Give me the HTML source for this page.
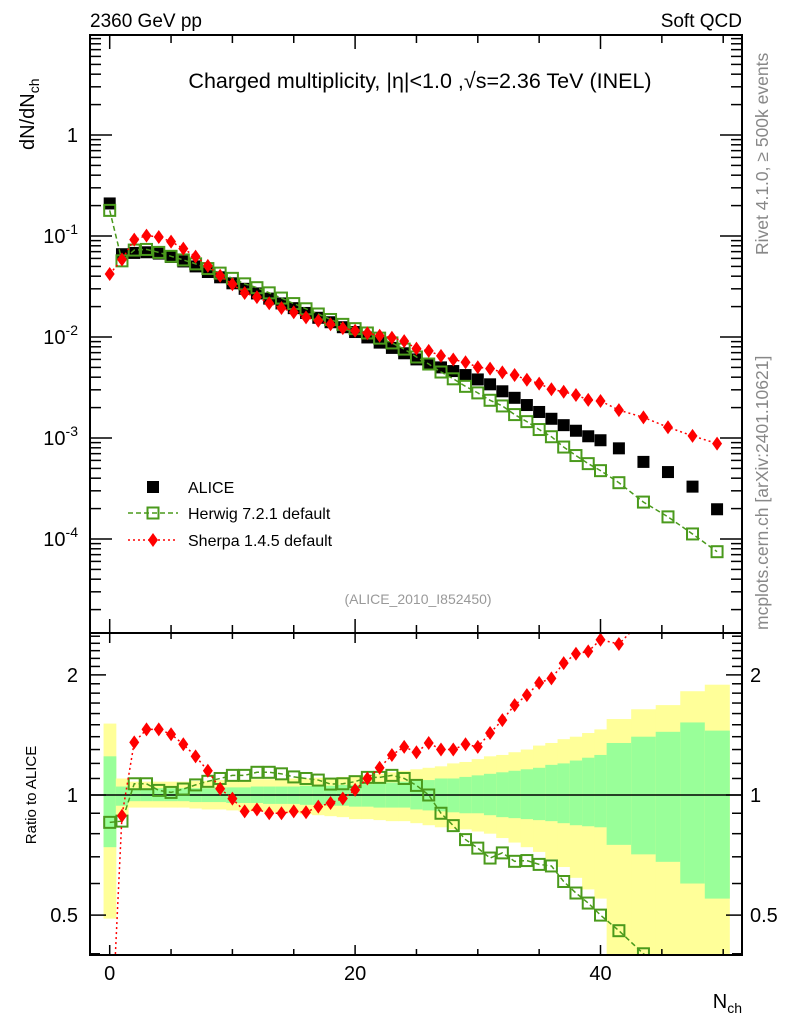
<!DOCTYPE html>
<html><head><meta charset="utf-8">
<style>
html,body{margin:0;padding:0;background:#fff;overflow:hidden;width:786px;height:1024px;}
svg{display:block;font-family:"Liberation Sans",sans-serif;}
</style></head>
<body>
<svg id="c" width="786" height="1024" viewBox="0 0 786 1024" xmlns="http://www.w3.org/2000/svg">
<defs>
<clipPath id="cm"><rect x="90" y="35" width="652" height="598"/></clipPath>
<clipPath id="cr"><rect x="90" y="633" width="652" height="322"/></clipPath>
</defs>
<text x="90" y="27" font-size="19">2360 GeV pp</text>
<text x="742" y="27" font-size="19" text-anchor="end">Soft QCD</text>
<text x="420" y="88" font-size="21.5" text-anchor="middle">Charged multiplicity, |η|&lt;1.0 ,√s=2.36 TeV (INEL)</text>
<text x="418" y="604" font-size="14" fill="#999" text-anchor="middle">(ALICE_2010_I852450)</text>
<text transform="translate(34,150) rotate(-90)" font-size="20">dN/dN<tspan font-size="14" dy="5">ch</tspan></text>
<text transform="translate(36,795) rotate(-90)" font-size="15" text-anchor="middle">Ratio to ALICE</text>
<text x="742" y="1008" font-size="20" text-anchor="end">N<tspan font-size="14" dy="5">ch</tspan></text>
<text transform="translate(768,255) rotate(-90)" font-size="17.5" fill="#888">Rivet 4.1.0, ≥ 500k events</text>
<text transform="translate(768,630) rotate(-90)" font-size="17.5" fill="#888">mcplots.cern.ch [arXiv:2401.10621]</text>
<g id="ratioBands" clip-path="url(#cr)"></g>
<g id="ticks"></g>
<g id="mainMarks" clip-path="url(#cm)"></g>
<g id="ratioMarks" clip-path="url(#cr)"></g>
<g id="legend"></g>
<rect x="90" y="35" width="652" height="598" fill="none" stroke="#000" stroke-width="2"/>
<rect x="90" y="633" width="652" height="322" fill="none" stroke="#000" stroke-width="2"/>
</svg>
<script>
const nch = [0,1,2,3,4,5,6,7,8,9,10,11,12,13,14,15,16,17,18,19,20,21,22,23,24,25,26,27,28,29,30,31,32,33,34,35,36,37,38,39,40,41.5,43.5,45.5,47.5,49.5];
const alice = [0.21,0.066,0.068,0.069,0.067,0.062,0.056,0.050,0.044,0.039,0.034,0.030,0.027,0.024,0.0215,0.0193,0.0173,0.0155,0.0140,0.0125,0.0112,0.0099,0.0088,0.0078,0.0069,0.0060,0.0054,0.0050,0.0046,0.0042,0.0038,0.0034,0.0029,0.0025,0.00212,0.00181,0.00155,0.00134,0.00118,0.00104,0.00095,0.00079,0.00058,0.00046,0.00033,0.000197];
const herwigToAlice = [0.854,0.86,1.067,1.067,1.027,1.015,1.035,1.06,1.082,1.10,1.12,1.12,1.14,1.14,1.13,1.11,1.10,1.09,1.065,1.067,1.08,1.107,1.107,1.12,1.10,1.057,1.0,0.90,0.838,0.773,0.736,0.695,0.716,0.682,0.685,0.67,0.664,0.607,0.568,0.536,0.50,0.457,0.40,0.36,0.34,0.38];
const sherpaToAlice = [0.20,0.887,1.355,1.46,1.46,1.42,1.34,1.25,1.15,1.037,0.979,0.91,0.92,0.90,0.90,0.91,0.905,0.935,0.955,0.98,1.03,1.10,1.17,1.26,1.32,1.28,1.35,1.30,1.30,1.34,1.32,1.43,1.54,1.68,1.78,1.91,1.96,2.14,2.26,2.29,2.45,2.39,2.76,2.78,3.18,4.47];
const totUp = [1.51,1.10,1.08,1.08,1.08,1.08,1.08,1.085,1.085,1.09,1.09,1.09,1.095,1.095,1.10,1.10,1.10,1.105,1.105,1.11,1.11,1.12,1.13,1.14,1.15,1.16,1.17,1.18,1.20,1.21,1.23,1.25,1.26,1.28,1.30,1.33,1.35,1.38,1.40,1.43,1.46,1.55,1.64,1.68,1.82,1.89];
const totDn = [0.49,0.89,0.93,0.93,0.93,0.93,0.93,0.925,0.92,0.92,0.915,0.91,0.91,0.905,0.90,0.90,0.895,0.89,0.885,0.88,0.87,0.87,0.865,0.86,0.86,0.85,0.84,0.83,0.82,0.82,0.81,0.80,0.78,0.76,0.74,0.72,0.69,0.66,0.62,0.58,0.55,0.35,0.35,0.35,0.35,0.35];
const statUp = [1.25,1.05,1.04,1.04,1.04,1.04,1.04,1.04,1.04,1.045,1.045,1.045,1.05,1.05,1.05,1.05,1.055,1.055,1.055,1.06,1.06,1.065,1.07,1.075,1.08,1.085,1.09,1.10,1.10,1.11,1.12,1.13,1.14,1.15,1.16,1.17,1.19,1.20,1.22,1.24,1.26,1.35,1.40,1.44,1.52,1.45];
const statDn = [0.74,0.94,0.965,0.965,0.965,0.965,0.965,0.96,0.96,0.96,0.955,0.955,0.955,0.95,0.95,0.95,0.945,0.945,0.94,0.94,0.935,0.935,0.93,0.93,0.93,0.92,0.915,0.91,0.905,0.90,0.90,0.89,0.88,0.875,0.87,0.865,0.86,0.85,0.84,0.835,0.83,0.75,0.71,0.68,0.60,0.55];
const xTicks = [0,20,40];
const mainTickLabels = ["1","10","10","10","10"];
const mainTickExp = [0,-1,-2,-3,-4];
const ratioTicks = [2,1,0.5];

const NS = "http://www.w3.org/2000/svg";
const X = n => 109.7 + 12.27 * n;
const YM = v => 135 - 101 * Math.log10(v);
const YR = r => 795 - 399 * Math.log10(r);
function mk(tag, attrs, parent){const e=document.createElementNS(NS,tag);for(const k in attrs)e.setAttribute(k,attrs[k]);parent.appendChild(e);return e;}
const G = id => document.getElementById(id);
const GREEN="#4a9a1c", RED="#ff0000";

const bands=G('ratioBands');
nch.forEach((n,i)=>{
  const hw = Number.isInteger(n)?0.5:1;
  const x0=X(n-hw), x1=X(n+hw);
  const y=mk('rect',{x:x0,y:YR(totUp[i]),width:x1-x0+0.5,height:YR(totDn[i])-YR(totUp[i]),fill:"#ffff99"},bands);
  
  
  const g=mk('rect',{x:x0,y:YR(statUp[i]),width:x1-x0+0.5,height:YR(statDn[i])-YR(statUp[i]),fill:"#99ff99"},bands);
  
  
});
const one=mk('line',{x1:90,x2:742,y1:YR(1),y2:YR(1),stroke:"#000","stroke-width":1.5},bands);



const t=G('ticks');
function tick(x1,y1,x2,y2){const l=mk('line',{x1,y1,x2,y2,stroke:"#000","stroke-width":1.5},t);}
for(let n=0;n<=50;n+=5){
  const x=X(n), maj=n%20===0, L=maj?14:8;
  tick(x,35,x,35+L); tick(x,633,x,633-L);
  tick(x,633,x,633+(maj?10:6)); tick(x,955,x,955-(maj?10:6));
}
xTicks.forEach(v=>{const e=mk('text',{x:X(v),y:980,"font-size":20,"text-anchor":"middle"},t);e.textContent=String(v);});
for(let d=-5;d<=1;d++){for(let k=1;k<=9;k++){const y=YM(k*Math.pow(10,d));if(y<36||y>632)continue;const L=k===1?22:11;tick(90,y,90+L,y);tick(742,y,742-L,y);}}
mainTickExp.forEach((e,i)=>{const y=YM(Math.pow(10,e));const tx=mk('text',{x:78,y:y+7,"font-size":20,"text-anchor":"end"},t);tx.textContent=mainTickLabels[i];if(e!==0){const s=document.createElementNS(NS,'tspan');s.setAttribute('font-size','14');s.setAttribute('dy','-9');s.textContent=String(e);tx.appendChild(s);}

});
for(let k=4;k<=25;k++){const r=k/10;const y=YR(r);if(y<634||y>954)continue;const maj=(k===5||k===10||k===20);const L=maj?16:10;tick(90,y,90+L,y);tick(742,y,742-L,y);}
ratioTicks.forEach(r=>{const y=YR(r);const a=mk('text',{x:78,y:y+7,"font-size":20,"text-anchor":"end"},t);a.textContent=String(r);const b=mk('text',{x:750,y:y+7,"font-size":20},t);b.textContent=String(r);});

function series(parent, xs, ys, color, dash, kind, name){
  const p=mk('polyline',{points:xs.map((x,i)=>x+","+ys[i]).join(" "),fill:"none",stroke:color,"stroke-width":1.5,"stroke-dasharray":dash},parent);
  
  
  xs.forEach((x,i)=>marker(parent,x,ys[i],kind,name+'-point'));
}
function marker(parent,x,y,kind,name){
  let e;
  if(kind==='alice') e=mk('rect',{x:x-6,y:y-6,width:12,height:12,fill:"#000"},parent);
  else if(kind==='herwig') e=mk('rect',{x:x-5.5,y:y-5.5,width:11,height:11,fill:"none",stroke:GREEN,"stroke-width":2},parent);
  else e=mk('polygon',{points:`${x},${y-7} ${x+5},${y} ${x},${y+7} ${x-5},${y}`,fill:RED},parent);
  
  
}
const mm=G('mainMarks'), rm=G('ratioMarks');
const xs=nch.map(X);
nch.forEach((n,i)=>marker(mm,xs[i],YM(alice[i]),'alice','alice-point'));
series(mm,xs,alice.map((a,i)=>YM(a*herwigToAlice[i])),GREEN,"5,3",'herwig','herwig');
series(mm,xs,alice.map((a,i)=>YM(a*sherpaToAlice[i])),RED,"2,3",'sherpa','sherpa');
series(rm,xs,herwigToAlice.map(YR),GREEN,"5,3",'herwig','herwig-ratio');
series(rm,xs,sherpaToAlice.map(YR),RED,"2,3",'sherpa','sherpa-ratio');

const lg=G('legend');
marker(lg,153,487,'alice','legend-alice-marker');
const l1=mk('line',{x1:128,x2:178,y1:513,y2:513,stroke:GREEN,"stroke-width":1.5,"stroke-dasharray":"5,3"},lg);


marker(lg,153,513,'herwig','legend-herwig-marker');
const l2=mk('line',{x1:128,x2:178,y1:540,y2:540,stroke:RED,"stroke-width":1.5,"stroke-dasharray":"2,3"},lg);


marker(lg,153,540,'sherpa','legend-sherpa-marker');
[["ALICE",493],["Herwig 7.2.1 default",519],["Sherpa 1.4.5 default",546]].forEach(([s,y])=>{const e=mk('text',{x:188,y:y,"font-size":16},lg);e.textContent=s;});
</script>
</body></html>
